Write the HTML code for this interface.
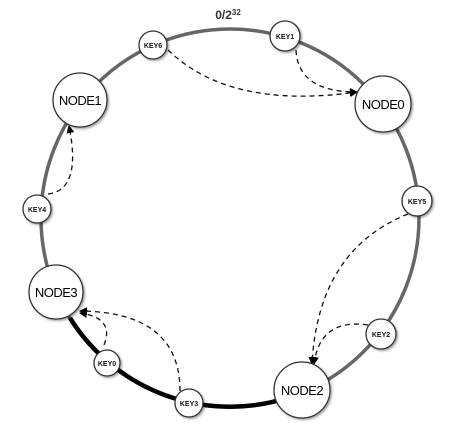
<!DOCTYPE html>
<html><head><style>body{margin:0;background:#fff}svg{display:block}</style></head><body>
<svg width="462" height="436" viewBox="0 0 462 436" font-family="Liberation Sans, sans-serif">
<defs>
<marker id="a" markerWidth="8" markerHeight="8" refX="7" refY="4" orient="auto" markerUnits="userSpaceOnUse"><path d="M0,0 L8,4 L0,8 z" fill="#000"/></marker>
<filter id="s" x="-30%" y="-30%" width="160%" height="160%"><feDropShadow dx="1.5" dy="1.5" stdDeviation="1" flood-color="#000" flood-opacity="0.35"/></filter>
</defs>
<circle cx="230" cy="218" r="189" fill="none" stroke="#666" stroke-width="3.5"/>
<path d="M70,318 A189 189 0 0 0 290,397" fill="none" stroke="#000" stroke-width="4.5"/>
<text x="228" y="19" font-size="12" font-weight="bold" text-anchor="middle" fill="#333">0/2<tspan font-size="8" dy="-4">32</tspan></text>
<g fill="none" stroke="#111" stroke-width="1.3" stroke-dasharray="5,4">
<path d="M168,50 Q230,110 357,92" marker-end="url(#a)"/>
<path d="M296,50 Q298,92 357,92" marker-end="url(#a)"/>
<path d="M48,194 Q82,190 69,126" marker-end="url(#a)"/>
<path d="M408,214 Q318,250 312,364" marker-end="url(#a)"/>
<path d="M368,325 Q320,318 314,364" marker-end="url(#a)"/>
<path d="M104,345 Q115,318 80,313" marker-end="url(#a)"/>
<path d="M180,391 Q180,312 80,311" marker-end="url(#a)"/>
</g>
<g fill="#fff" stroke="#333" stroke-width="1.3" filter="url(#s)">
<circle cx="153" cy="45" r="14"/><circle cx="285" cy="36" r="15"/>
<circle cx="80" cy="100" r="27"/><circle cx="383" cy="104" r="28"/>
<circle cx="37" cy="209" r="14"/><circle cx="417" cy="201" r="15"/>
<circle cx="56" cy="292" r="27"/><circle cx="107" cy="363" r="13"/>
<circle cx="189" cy="403" r="14"/><circle cx="302" cy="390" r="28"/>
<circle cx="381" cy="334" r="15"/>
</g>
<g font-size="7" font-weight="bold" text-anchor="middle" fill="#111">
<text x="153" y="48">KEY6</text><text x="285" y="39">KEY1</text>
<text x="37" y="212">KEY4</text><text x="417" y="204">KEY5</text>
<text x="107" y="366">KEY0</text><text x="189" y="406">KEY3</text>
<text x="381" y="337">KEY2</text>
</g>
<g font-size="13" text-anchor="middle" fill="#000" letter-spacing="-0.5">
<text x="80" y="105">NODE1</text><text x="383" y="109">NODE0</text>
<text x="56" y="297">NODE3</text><text x="302" y="395">NODE2</text>
</g>
</svg>
</body></html>
